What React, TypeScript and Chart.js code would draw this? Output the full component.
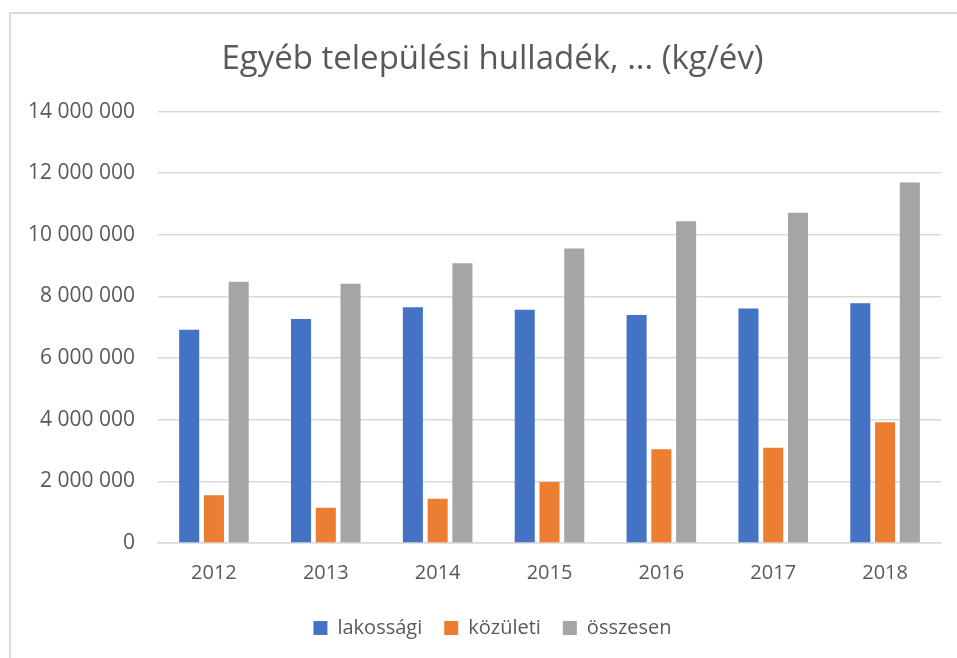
import React, { useEffect, useRef } from "react";
import { Chart, registerables } from "chart.js";

Chart.register(...registerables);

const years = ["2012", "2013", "2014", "2015", "2016", "2017", "2018"];
const lakossagi = [6920000, 7270000, 7650000, 7570000, 7400000, 7610000, 7780000];
const kozuleti = [1550000, 1140000, 1440000, 1980000, 3040000, 3090000, 3920000];
const osszesen = [8480000, 8410000, 9080000, 9560000, 10440000, 10720000, 11700000];
const titleText = "Egyéb települési hulladék, ... (kg/év)";
const seriesNames = ["lakossági", "közületi", "összesen"];
const seriesColors = ["#4472C4", "#ED7D31", "#A5A5A5"];

const FONT = "'Open Sans', 'Liberation Sans', sans-serif";
const TEXT = "#595959";
const GRID = "#d9d9d9";

function fmt(v: number): string {
  return String(Math.round(v)).replace(/\B(?=(\d{3})+(?!\d))/g, " ");
}

const shiftBlocks = {
  id: "shiftBlocks",
  afterLayout(chart: any) {
    const dx = 22;
    const dy = -7;
    if (chart.titleBlock) {
      chart.titleBlock.left += dx;
      chart.titleBlock.right += dx;
    }
    if (chart.legend) {
      chart.legend.left += dx;
      chart.legend.right += dx;
      chart.legend.top += dy;
      chart.legend.bottom += dy;
    }
  },
};

export default function App() {
  const ref = useRef<HTMLCanvasElement | null>(null);

  useEffect(() => {
    if (!ref.current) return;
    const data = [lakossagi, kozuleti, osszesen];
    const chart = new Chart(ref.current, {
      type: "bar",
      data: {
        labels: years,
        datasets: seriesNames.map((name, i) => ({
          label: name,
          data: data[i],
          backgroundColor: seriesColors[i],
          borderWidth: 0,
          categoryPercentage: 0.664,
          barPercentage: 0.81,
        })),
      },
      plugins: [shiftBlocks],
      options: {
        animation: false,
        responsive: false,
        maintainAspectRatio: false,
        layout: { padding: { left: 0, right: 16, top: 0, bottom: 3 } },
        plugins: {
          title: {
            display: true,
            text: titleText,
            color: TEXT,
            font: { family: FONT, size: 33, weight: "normal" },
            padding: { top: 40, bottom: 32 },
          },
          legend: {
            display: true,
            position: "bottom",
            labels: {
              color: TEXT,
              font: { family: FONT, size: 20 },
              boxWidth: 14,
              boxHeight: 14,
              padding: 22,
            },
          },
          tooltip: { enabled: false },
        },
        scales: {
          x: {
            grid: { display: false, drawTicks: false },
            border: { display: true, color: GRID, width: 1.5 },
            ticks: { color: TEXT, font: { family: FONT, size: 20 }, padding: 18 },
          },
          y: {
            min: 0,
            max: 14000000,
            afterFit: (s: any) => {
              s.width = 158;
            },
            grid: { color: GRID, lineWidth: 1.5, drawTicks: false },
            border: { display: false },
            ticks: {
              stepSize: 2000000,
              color: TEXT,
              font: { family: FONT, size: 21 },
              padding: 23,
              callback: (v: any) => fmt(Number(v)),
            },
          },
        },
      },
    });
    return () => chart.destroy();
  }, []);

  return (
    <div style={{ position: "absolute", left: 0, top: 0, width: 957, height: 658, overflow: "hidden", background: "#fff" }}>
      <div
        style={{
          position: "absolute",
          left: 9,
          top: 12,
          width: 970,
          height: 670,
          border: "2px solid #d9d9d9",
          boxSizing: "border-box",
        }}
      />
      <canvas ref={ref} width={957} height={658} style={{ position: "absolute", left: 0, top: 0 }} />
    </div>
  );
}
